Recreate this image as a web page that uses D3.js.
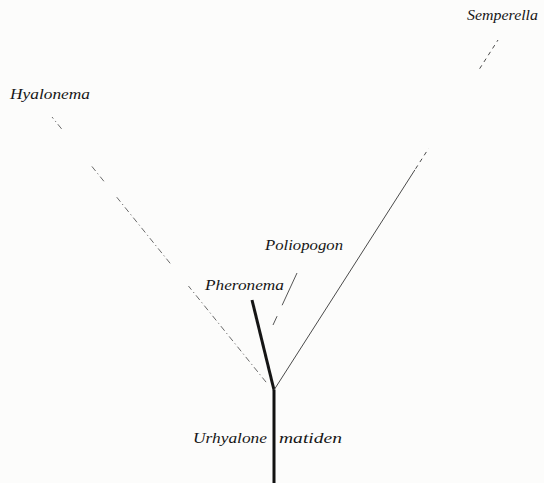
<!DOCTYPE html>
<html>
<head>
<meta charset="utf-8">
<script src="https://cdn.jsdelivr.net/npm/d3@7"></script>
<style>
  html, body { margin: 0; padding: 0; background: #fcfcfb; }
  svg { display: block; }
  .label { font-family: "Liberation Serif", "DejaVu Serif", serif; font-style: italic; font-size: 15.5px; fill: #161616; }
</style>
</head>
<body>
<div id="container"></div>
<script>
/* CONSTANTS AND GLOBALS */
const width = 544,
  height = 483

/* DATA  (fork of the tree = 0,0 ; y grows upward) */
const branchNames = ["Urhyalonematiden", "Pheronema", "Semperella", "Hyalonema", "Poliopogon"]
const branchStart = [[0, 0], [0, 0], [0, 0], [-4, 3], [-1, 65]]
const branchEnd = [[0, -93], [-22, 90], [224, 350], [-222, 273], [23, 117]]
// visible pieces of each branch, as fractions along it (the print is faded in places)
const branchPieces = [
  [[0, 1]],
  [[0, 1]],
  [[0, 0.629], [0.632, 0.69], [0.918, 1]],
  [[0.018, 0.374], [0.458, 0.703], [0.762, 0.817], [0.956, 1]],
  [[0, 0.17], [0.38, 1]]
]

const labelTexts = ["Hyalonema", "Semperella", "Poliopogon", "Pheronema", "Urhyalone", "matiden"]
const labelPos = [[-264, 291], [264, 370], [-9, 140], [-69, 100], [-81, -53], [5, -53]]
const labelWidth = [80, 71, 78, 79, 74, 63]

// SCALES
const xScale = d3.scaleLinear().domain([-274, 270]).range([0, width])
const yScale = d3.scaleLinear().domain([-93, 390]).range([height, 0])

// CREATE SVG ELEMENT
const svg = d3.select("#container")
  .append("svg")
  .attr("width", width)
  .attr("height", height)

svg.append("rect")
  .attr("width", width)
  .attr("height", height)
  .attr("fill", "#fcfcfb")

// line styles per branch
const strokeCol = ["#111", "#151515", "#4a4a4a", "#6a6a6a", "#555"]
const strokeW = [3, 3, 1, 1, 1]

const pieces = []
branchNames.forEach((name, i) => {
  const s = branchStart[i], e = branchEnd[i]
  branchPieces[i].forEach((p, j) => {
    pieces.push({
      branch: i,
      piece: j,
      x1: s[0] + (e[0] - s[0]) * p[0],
      y1: s[1] + (e[1] - s[1]) * p[0],
      x2: s[0] + (e[0] - s[0]) * p[1],
      y2: s[1] + (e[1] - s[1]) * p[1]
    })
  })
})

svg.selectAll("line.branch")
  .data(pieces)
  .join("line")
  .attr("class", "branch")
  .attr("x1", d => xScale(d.x1))
  .attr("y1", d => yScale(d.y1))
  .attr("x2", d => xScale(d.x2))
  .attr("y2", d => yScale(d.y2))
  .attr("stroke", d => strokeCol[d.branch])
  .attr("stroke-width", d => strokeW[d.branch])
  .attr("stroke-dasharray", d => {
    if (d.branch === 3) return "6,3,1.2,3"
    if (d.branch === 2 && d.piece > 0) return "4,4"
    return null
  })

// LABELS
svg.selectAll("text.label")
  .data(labelTexts)
  .join("text")
  .attr("class", "label")
  .attr("x", (d, i) => xScale(labelPos[i][0]) - (i === 1 ? labelWidth[i] : 0))
  .attr("y", (d, i) => yScale(labelPos[i][1]))
  .attr("textLength", (d, i) => labelWidth[i])
  .attr("lengthAdjust", "spacingAndGlyphs")
  .text(d => d)
</script>
</body>
</html>
